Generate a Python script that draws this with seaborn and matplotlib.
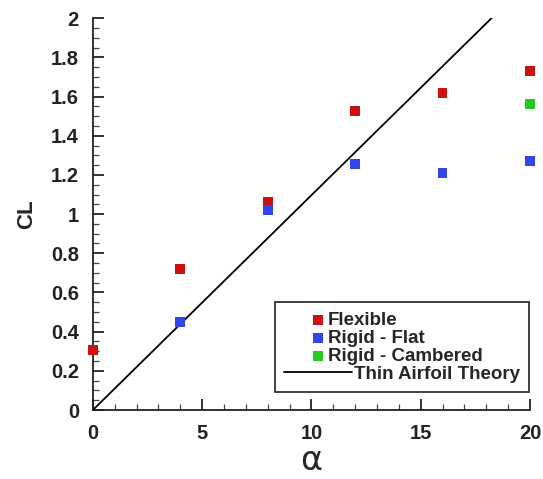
import numpy as np
import pandas as pd
import matplotlib
matplotlib.use("Agg")
import matplotlib.pyplot as plt
import seaborn as sns
from matplotlib.ticker import MultipleLocator, FuncFormatter

# Data
flex_alpha = [0, 4, 8, 12, 16, 20]
flex_cl = [0.305, 0.72, 1.06, 1.525, 1.62, 1.73]
flat_alpha = [4, 8, 12, 16, 20]
flat_cl = [0.45, 1.02, 1.255, 1.21, 1.27]
camb_alpha = [20]
camb_cl = [1.56]
theory_alpha = [0, 18.24]
theory_cl = [0, 2.0]

sns.set_style("ticks")
plt.rcParams['font.family'] = ['Liberation Sans', 'DejaVu Sans']

fig = plt.figure(figsize=(5.43, 4.79), dpi=100)
ax = fig.add_axes([0.171, 0.144, 0.805, 0.818])

ms = 50
sns.scatterplot(x=flex_alpha, y=flex_cl, ax=ax, marker='s', s=ms, color='#cc1111',
                edgecolor='none', label='Flexible', clip_on=False, zorder=3)
sns.scatterplot(x=flat_alpha, y=flat_cl, ax=ax, marker='s', s=ms, color='#3344ee',
                edgecolor='none', label='Rigid - Flat', clip_on=False, zorder=3)
sns.scatterplot(x=camb_alpha, y=camb_cl, ax=ax, marker='s', s=ms, color='#22cc22',
                edgecolor='none', label='Rigid - Cambered', clip_on=False, zorder=3)
sns.lineplot(x=theory_alpha, y=theory_cl, ax=ax, color='black', linewidth=1.3,
             label='Thin Airfoil Theory')

ax.set_xlim(0, 20)
ax.set_ylim(0, 2)
ax.xaxis.set_major_locator(MultipleLocator(5))
ax.xaxis.set_minor_locator(MultipleLocator(1))
ax.yaxis.set_major_locator(MultipleLocator(0.2))
ax.yaxis.set_minor_locator(MultipleLocator(0.05))
ax.yaxis.set_major_formatter(FuncFormatter(lambda v, p: f"{v:.1f}".rstrip('0').rstrip('.') if abs(v) > 1e-9 else "0"))

for s in ['top', 'right']:
    ax.spines[s].set_visible(False)
for s in ['left', 'bottom']:
    ax.spines[s].set_color('#222222')
    ax.spines[s].set_linewidth(1.3)

ax.tick_params(which='major', direction='in', length=8, width=1.3, colors='#222222',
               labelsize=14.5, pad=10)
ax.tick_params(which='minor', direction='in', length=4, width=0.9, colors='#444444')
for lab in ax.get_xticklabels() + ax.get_yticklabels():
    lab.set_fontweight('bold')

ax.set_xlabel('α', fontsize=24, labelpad=1, family=['DejaVu Sans'])
ax.set_ylabel('CL', fontsize=16, fontweight='bold', labelpad=10)

leg = ax.legend(loc='lower right', bbox_to_anchor=(0.998, 0.045), frameon=True, fancybox=False,
                edgecolor='black', prop={'weight': 'bold', 'size': 13.5},
                handlelength=3.6, handletextpad=0.1, labelspacing=0.05, borderpad=0.5,
                borderaxespad=0.0)
leg.get_frame().set_linewidth(1.3)
# marker entries: text sits right next to the marker, as in the reference
for t in leg.get_texts()[:3]:
    t.set_x(-26)

fig.savefig('out.png', dpi=100)
